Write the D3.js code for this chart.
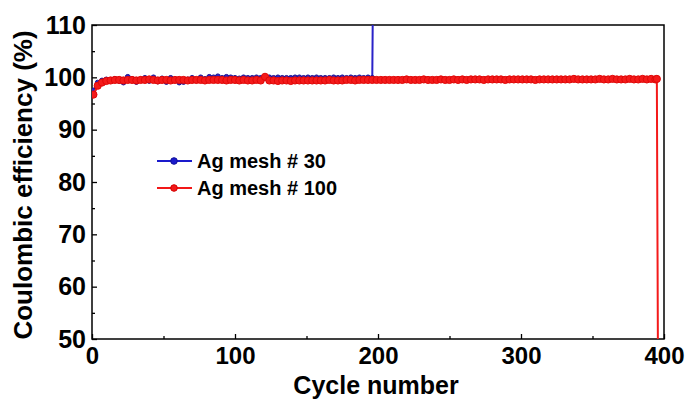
<!DOCTYPE html>
<html>
<head>
<meta charset="utf-8">
<script src="https://cdn.jsdelivr.net/npm/d3@7"></script>
<style>
  body { margin: 0; background: #fff; }
  text { font-family: "Liberation Sans", Arial, sans-serif; font-weight: bold; fill: #000; }
</style>
</head>
<body>
<div id="chart"></div>
<script>
// ----- data ----- //
const xTicks = [0, 100, 200, 300, 400];
const yTicks = [50, 60, 70, 80, 90, 100, 110];

const blueCycles = [1,4,7,10,13,16,19,22,25,28,
  31,34,37,40,43,46,49,52,55,58,
  61,64,67,70,73,76,79,82,85,88,
  91,94,97,100,103,106,109,112,115,118,
  121,124,127,130,133,136,139,142,145,148,
  151,154,157,160,163,166,169,172,175,178,
  181,184,187,190,193,196,197];
const blueCE = [97.5,99.0,99.4,99.6,99.4,99.7,99.3,99.0,100.1,99.7,
  99.1,99.6,99.9,99.3,100.0,99.2,99.8,99.1,99.9,99.5,
  99.0,99.1,99.6,99.9,99.4,100.0,99.7,100.1,100.0,100.2,
  99.9,100.1,100.0,99.9,99.8,100.0,99.9,99.9,100.0,99.9,
  99.9,100.0,99.9,100.0,99.9,99.9,99.9,100.0,100.0,99.9,
  100.0,99.9,100.0,99.9,99.9,99.9,100.0,99.9,100.0,99.9,
  100.0,99.9,100.0,99.9,100.0,99.9,135];

const redCycles = [1,4,7,10,13,16,19,22,25,28,
  31,34,37,40,43,46,49,52,55,58,
  61,64,67,70,73,76,79,82,85,88,
  91,94,97,100,103,106,109,112,115,118,
  121,124,127,130,133,136,139,142,145,148,
  151,154,157,160,163,166,169,172,175,178,
  181,184,187,190,193,196,199,202,205,208,
  211,214,217,220,223,226,229,232,235,238,
  241,244,247,250,253,256,259,262,265,268,
  271,274,277,280,283,286,289,292,295,298,
  301,304,307,310,313,316,319,322,325,328,
  331,334,337,340,343,346,349,352,355,358,
  361,364,367,370,373,376,379,382,385,388,
  391,394,395,396];
const redCE = [96.7,98.4,99.0,99.3,99.4,99.5,99.5,99.4,99.5,99.5,
  99.4,99.5,99.5,99.6,99.5,99.4,99.5,99.5,99.4,99.5,
  99.5,99.5,99.4,99.5,99.5,99.5,99.4,99.5,99.5,99.5,
  99.5,99.4,99.5,99.5,99.4,99.5,99.4,99.4,99.5,99.4,
  100.1,99.4,99.4,99.3,99.4,99.4,99.3,99.4,99.4,99.4,
  99.4,99.4,99.4,99.4,99.4,99.5,99.4,99.4,99.4,99.5,
  99.5,99.4,99.5,99.5,99.5,99.5,99.5,99.5,99.5,99.5,
  99.5,99.5,99.5,99.6,99.5,99.5,99.5,99.6,99.5,99.5,
  99.5,99.6,99.5,99.5,99.6,99.5,99.6,99.5,99.6,99.6,
  99.6,99.5,99.6,99.6,99.6,99.6,99.5,99.6,99.6,99.6,
  99.6,99.6,99.6,99.5,99.6,99.6,99.6,99.6,99.6,99.6,
  99.6,99.6,99.7,99.6,99.6,99.6,99.6,99.6,99.7,99.6,
  99.6,99.7,99.6,99.6,99.6,99.7,99.6,99.6,99.7,99.6,
  99.7,99.6,99.7,30];

const seriesNames = ["Ag mesh # 30", "Ag mesh # 100"];

// ----- layout ----- //
const W = 688, H = 399;
const margin = {top: 25, right: 24, bottom: 60, left: 92};
const width = W - margin.left - margin.right;   // 572
const height = H - margin.top - margin.bottom;  // 314

const svg = d3.select('#chart').append('svg')
  .attr('width', W)
  .attr('height', H);

const graph = svg.append('g')
  .attr('transform', `translate(${margin.left}, ${margin.top})`);

const x = d3.scaleLinear().domain([0, 400]).range([0, width]);
const y = d3.scaleLinear().domain([50, 110]).range([height, 0]);

svg.append('defs').append('clipPath').attr('id', 'plotClip')
  .append('rect').attr('width', width).attr('height', height);

// minor ticks
graph.append('g')
  .attr('transform', `translate(0, ${height})`)
  .call(d3.axisBottom(x).tickValues([50, 150, 250, 350]).tickSize(-3).tickFormat(''))
  .call(g => g.select('.domain').remove());
graph.append('g')
  .call(d3.axisLeft(y).tickValues([55, 65, 75, 85, 95, 105]).tickSize(-3).tickFormat(''))
  .call(g => g.select('.domain').remove());

// X axis
const groupeX = graph.append('g')
  .attr('transform', `translate(0, ${height})`)
  .call(d3.axisBottom(x).tickValues(xTicks).tickSize(-5).tickPadding(8));
groupeX.selectAll('text').style('font-size', '24px');

// Y axis
const groupeY = graph.append('g')
  .call(d3.axisLeft(y).tickValues(yTicks).tickSize(-5).tickPadding(6));
groupeY.selectAll('text').style('font-size', '25px');

graph.selectAll('.domain').remove();
graph.selectAll('.tick line').attr('stroke', '#000').attr('stroke-width', 1.3);

// frame
graph.append('rect')
  .attr('width', width)
  .attr('height', height)
  .attr('fill', 'none')
  .attr('stroke', '#000')
  .attr('stroke-width', 1.5);

// ----- series ----- //
const blueData = blueCycles.map((c, i) => ({c: c, v: blueCE[i]}));
const redData = redCycles.map((c, i) => ({c: c, v: redCE[i]}));

const line = d3.line().x(d => x(d.c)).y(d => y(d.v));
const plot = graph.append('g').attr('clip-path', 'url(#plotClip)');

function drawSeries(data, color, edge, r, lw) {
  plot.append('path')
    .datum(data)
    .attr('fill', 'none')
    .attr('stroke', color)
    .attr('stroke-width', lw)
    .attr('d', line);
  plot.selectAll(null)
    .data(data.filter(d => d.v > 50 && d.v < 110))
    .enter()
    .append('circle')
    .attr('cx', d => x(d.c))
    .attr('cy', d => y(d.v))
    .attr('r', r)
    .attr('fill', color)
    .attr('stroke', edge)
    .attr('stroke-width', 1);
}

drawSeries(blueData, '#2a22c8', '#1a1490', 2.4, 2);
drawSeries(redData, '#f41a1a', '#e00808', 3.6, 2);

// ----- legend ----- //
const legendColors = [['#1a1acc', '#10109a'], ['#f21818', '#d40000']];
const legend = svg.append('g');
seriesNames.forEach((name, i) => {
  const ly = 161 + i * 27;
  legend.append('line')
    .attr('x1', 157).attr('x2', 192)
    .attr('y1', ly).attr('y2', ly)
    .attr('stroke', legendColors[i][0])
    .attr('stroke-width', 2);
  legend.append('circle')
    .attr('cx', 174).attr('cy', ly).attr('r', 3.3)
    .attr('fill', legendColors[i][0])
    .attr('stroke', legendColors[i][1]);
  legend.append('text')
    .attr('x', 197).attr('y', ly + 7)
    .style('font-size', '20px')
    .text(name);
});

// ----- axis titles ----- //
svg.append('text')
  .attr('text-anchor', 'middle')
  .attr('x', margin.left + width / 2 - 2)
  .attr('y', 394)
  .style('font-size', '25px')
  .text('Cycle number');

svg.append('text')
  .attr('text-anchor', 'middle')
  .attr('transform', `translate(32, ${margin.top + height / 2 + 3}) rotate(-90)`)
  .style('font-size', '26px')
  .text('Coulombic efficiency (%)');
</script>
</body>
</html>
